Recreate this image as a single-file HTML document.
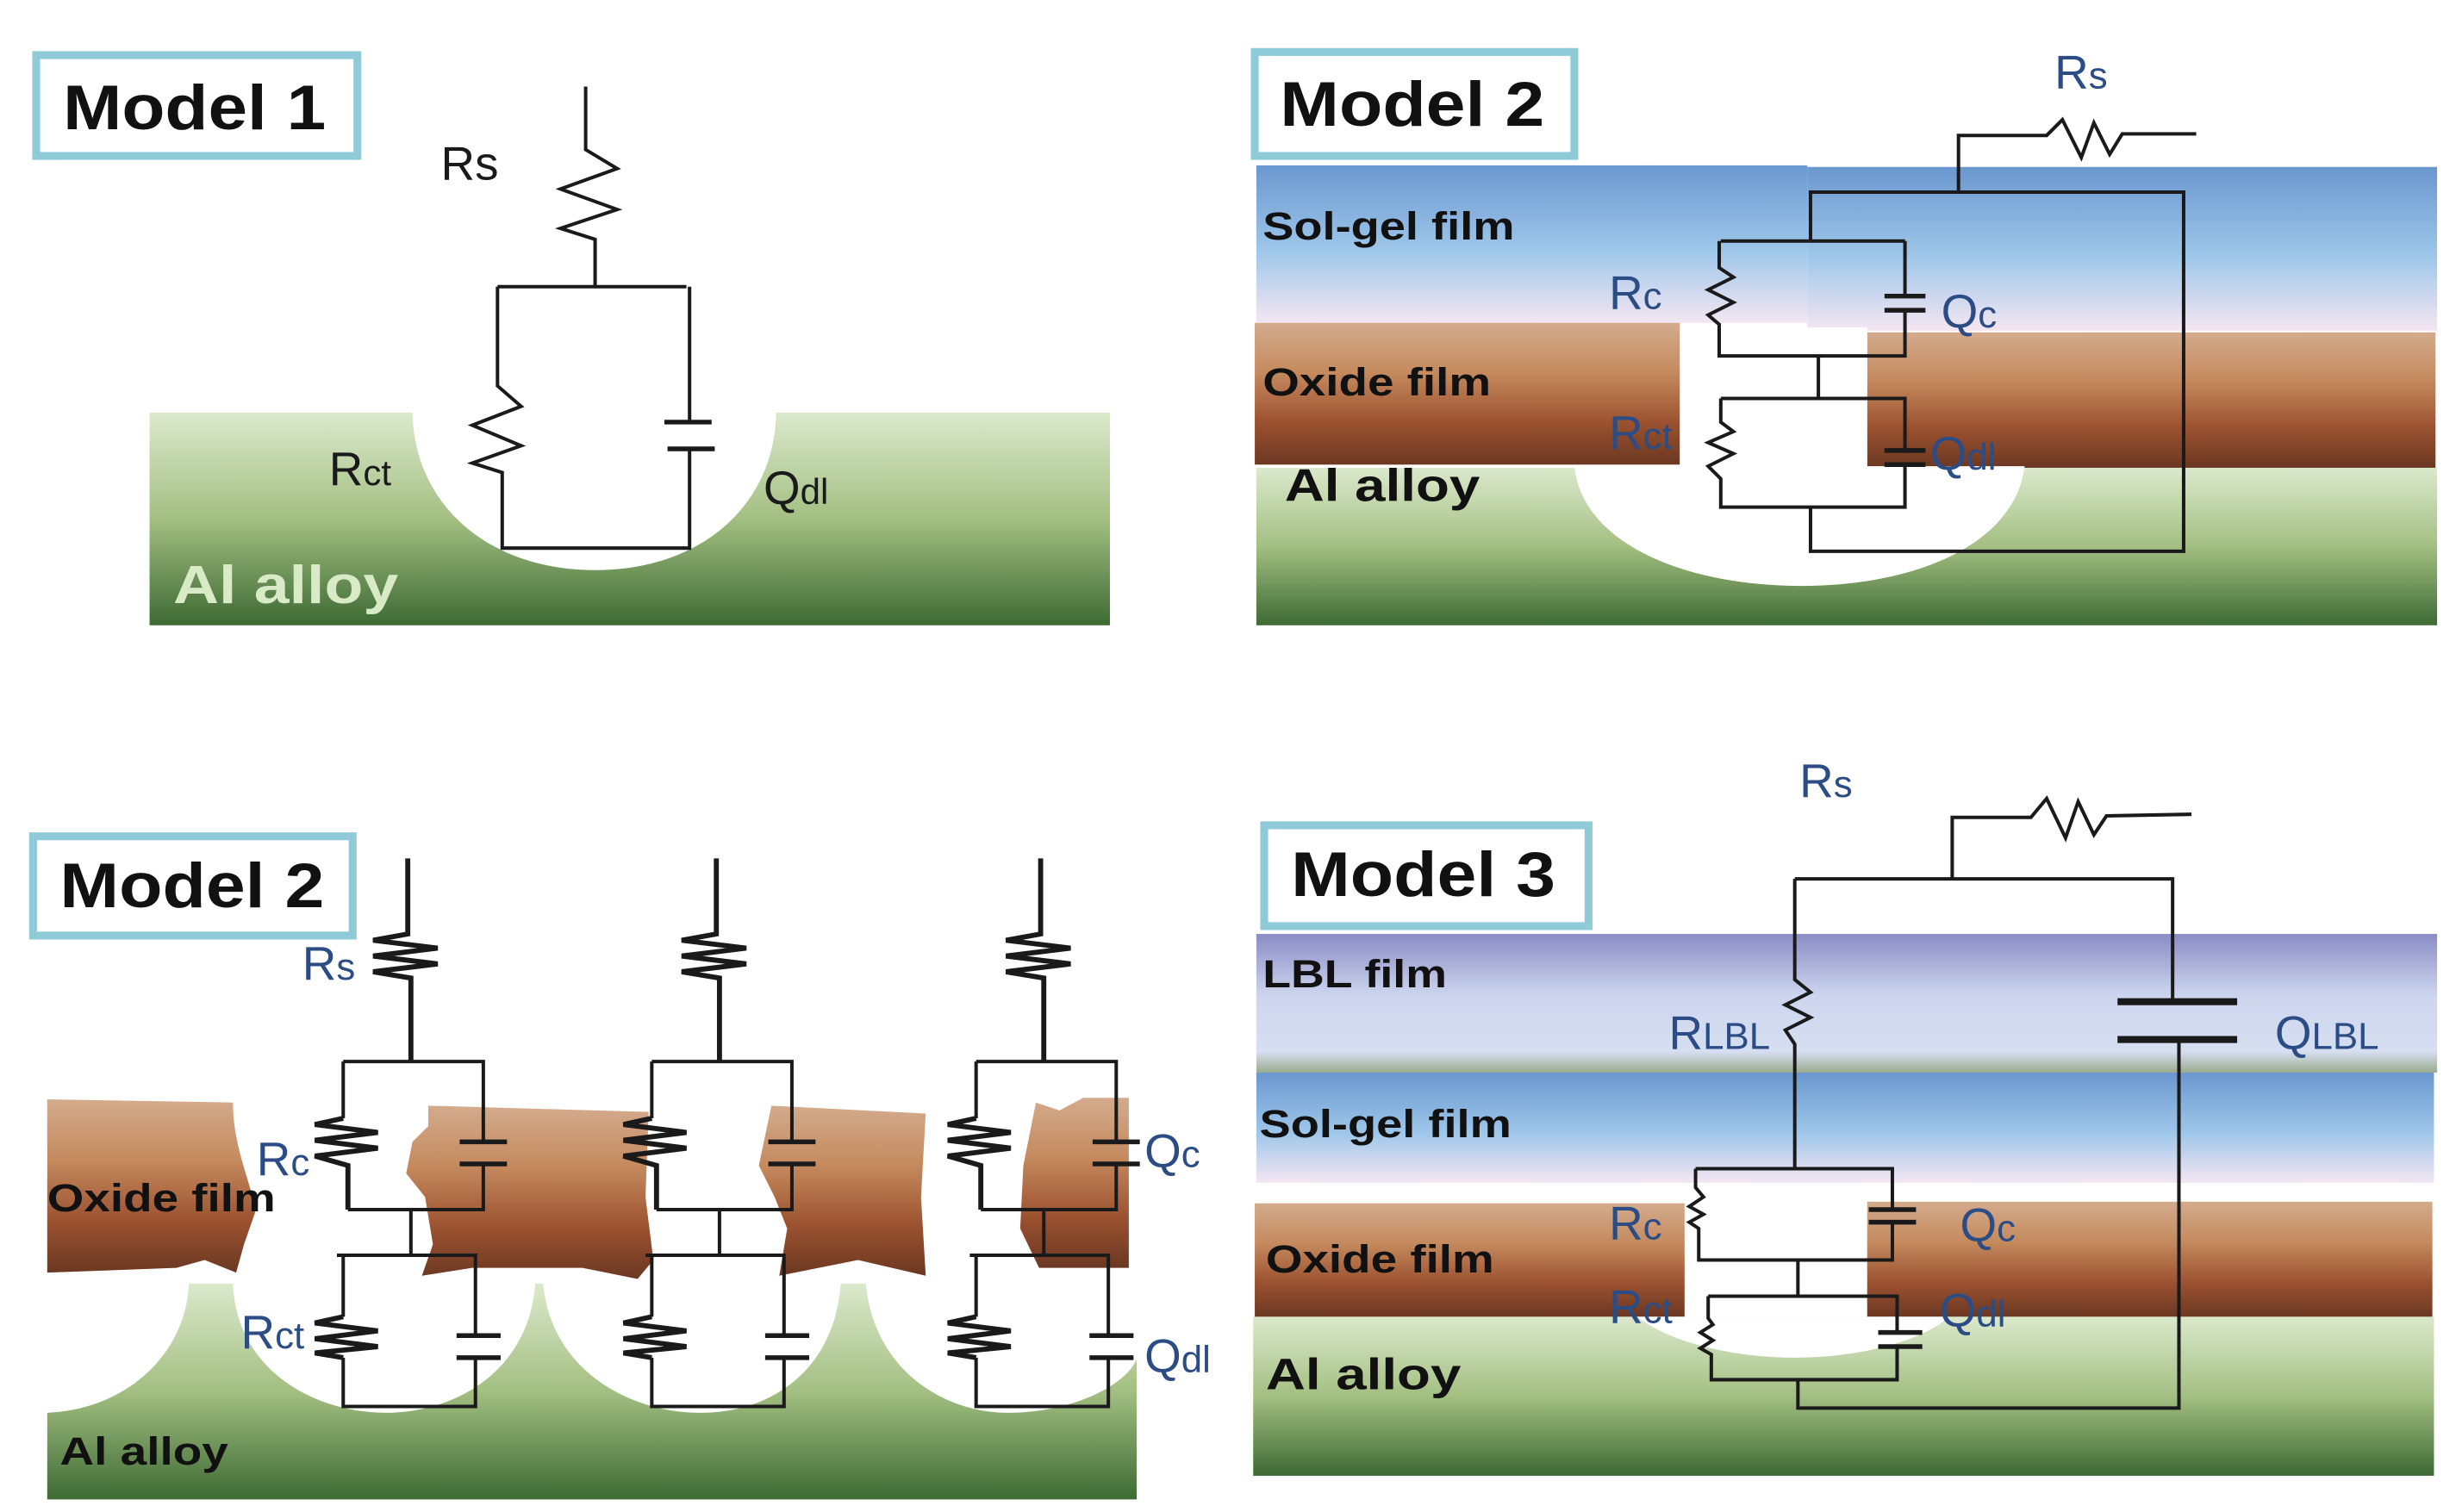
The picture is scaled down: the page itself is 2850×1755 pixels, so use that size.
<!DOCTYPE html>
<html><head><meta charset="utf-8"><style>
html,body{margin:0;padding:0;background:#fff;}
svg{display:block}
.w{fill:none;stroke:#1a1a1a;stroke-width:2.2;stroke-linejoin:miter}
.tw{fill:none;stroke:#1a1a1a;stroke-width:3.2}
.cap{stroke:#1a1a1a;stroke-width:3}
.box{fill:#fff;stroke:#8fcad8;stroke-width:5}
.mt{font-family:"Liberation Sans",sans-serif;font-weight:bold;font-size:40px;fill:#111}
.ll{font-family:"Liberation Sans Narrow","Liberation Sans",sans-serif;font-weight:bold;font-size:25px;fill:#111}
.bl{font-family:"Liberation Sans Narrow","Liberation Sans",sans-serif;font-size:30px;fill:#2b4c84}
.bk{font-family:"Liberation Sans Narrow","Liberation Sans",sans-serif;font-size:30px;fill:#1a1a1a}
</style></head><body>
<svg width="2850" height="1755" viewBox="0 0 1560 960" preserveAspectRatio="none" xmlns="http://www.w3.org/2000/svg">
<defs>
<linearGradient id="g" x1="0" y1="0" x2="0" y2="1"><stop offset="0" stop-color="#dbe9cc"/><stop offset="0.5" stop-color="#a3bf82"/><stop offset="1" stop-color="#3d6a33"/></linearGradient>
<linearGradient id="ox" x1="0" y1="0" x2="0" y2="1"><stop offset="0" stop-color="#d3ab8d"/><stop offset="0.35" stop-color="#c58a5e"/><stop offset="0.7" stop-color="#9c5230"/><stop offset="1" stop-color="#6b3822"/></linearGradient>
<linearGradient id="sg" x1="0" y1="0" x2="0" y2="1"><stop offset="0" stop-color="#6a97cf"/><stop offset="0.55" stop-color="#9fc7ea"/><stop offset="1" stop-color="#f4e6f2"/></linearGradient>
<linearGradient id="lbl" x1="0" y1="0" x2="0" y2="1"><stop offset="0" stop-color="#8a8cc5"/><stop offset="0.45" stop-color="#cdd6ee"/><stop offset="0.85" stop-color="#d6def1"/><stop offset="1" stop-color="#9aab8c"/></linearGradient>
</defs>

<!-- ===== Model 1 ===== -->
<rect x="95" y="262" width="610" height="135" fill="url(#g)"/>
<path d="M262,260 C262,320 310,362 378,362 C446,362 493,320 493,260 Z" fill="#fff"/>
<rect x="23" y="35" width="204" height="64" class="box"/>
<text x="40" y="82" class="mt" textLength="167" lengthAdjust="spacingAndGlyphs">Model 1</text>
<path class="w" d="M372,55 L372,95 L392,107 L356,120 L392,133 L356,145 L378,152 L378,182 M316,182 L436,182 M316,182 L316,245 L331,258 L300,270 L331,283 L300,294 L319,300 L319,348 L438,348 L438,285 M438,182 L438,268"/>
<line x1="422" y1="268" x2="452" y2="268" class="cap"/><line x1="424" y1="285" x2="454" y2="285" class="cap"/>
<text x="280" y="114" class="bk">Rs</text>
<text x="209" y="308" class="bk">R<tspan font-size="23">ct</tspan></text>
<text x="485" y="320" class="bk">Q<tspan font-size="23">dl</tspan></text>
<text x="110" y="383" class="ll" style="fill:#d8eac6;font-size:34px" textLength="143" lengthAdjust="spacingAndGlyphs">Al alloy</text>

<!-- ===== Model 2 (top right) ===== -->
<rect x="798" y="297" width="750" height="100" fill="url(#g)"/>
<rect x="798" y="105" width="350" height="100" fill="url(#sg)"/>
<rect x="1148" y="106" width="400" height="104" fill="url(#sg)"/>
<rect x="797" y="205" width="270" height="90" fill="url(#ox)"/>
<rect x="1186" y="211" width="361" height="86" fill="url(#ox)"/>
<path d="M1000,296 C1005,345 1070,372 1144,372 C1218,372 1280,345 1286,296 Z" fill="#fff"/>
<rect x="1067" y="208" width="119" height="89" fill="#fff"/>
<rect x="797" y="33" width="203" height="66" class="box"/>
<text x="813" y="80" class="mt" textLength="168" lengthAdjust="spacingAndGlyphs">Model 2</text>
<path class="w" d="M1244,122 L1244,86 L1300,86 L1310,76 L1322,100 L1330,78 L1340,98 L1348,85 L1395,85 M1150,152 L1150,122 L1387,122 L1387,350 L1150,350 L1150,322 M1093,153 L1210,153 M1092,153 L1092,170 L1101,176 L1085,184 L1101,192 L1085,200 L1092,206 L1092,226 L1210,226 L1210,197 M1210,153 L1210,188 M1155,226 L1155,253 M1093,253 L1210,253 L1210,286 M1093,253 L1093,268 L1101,274 L1085,281 L1101,288 L1085,296 L1093,304 L1093,322 L1210,322 L1210,295"/>
<line x1="1197" y1="188" x2="1223" y2="188" class="cap"/><line x1="1197" y1="197" x2="1223" y2="197" class="cap"/>
<line x1="1197" y1="286" x2="1223" y2="286" class="cap"/><line x1="1197" y1="295" x2="1223" y2="295" class="cap"/>
<text x="1305" y="56" class="bl">R<tspan font-size="24">s</tspan></text>
<text x="1022" y="196" class="bl">R<tspan font-size="24">c</tspan></text>
<text x="1233" y="208" class="bl">Q<tspan font-size="24">c</tspan></text>
<text x="1022" y="285" class="bl">R<tspan font-size="24">ct</tspan></text>
<text x="1226" y="298" class="bl">Q<tspan font-size="24">dl</tspan></text>
<text x="802" y="152" class="ll" textLength="160" lengthAdjust="spacingAndGlyphs">Sol-gel film</text>
<text x="802" y="251" class="ll" textLength="145" lengthAdjust="spacingAndGlyphs">Oxide film</text>
<text x="816" y="318" class="ll" style="font-size:29px" textLength="124" lengthAdjust="spacingAndGlyphs">Al alloy</text>

<!-- ===== Model 2 (bottom left) ===== -->
<path d="M30,952 L30,897 C80,895 118,860 120,815 L148,815 C150,870 200,897 245,897 C290,897 336,870 340,815 L345,815 C350,870 400,897 445,897 C490,897 530,870 534,815 L550,815 C555,870 600,897 640,897 C680,897 715,880 722,863 L722,952 Z" fill="url(#g)"/>
<path d="M30,698 L148,700 C148,730 160,750 162,770 L155,790 L150,808 L130,800 L112,805 L30,808 Z" fill="url(#ox)"/>
<path d="M272,702 L412,706 L410,760 L415,800 L405,812 L370,805 L300,805 L268,810 L275,790 L270,760 L258,745 L262,725 L272,715 Z" fill="url(#ox)"/>
<path d="M490,702 L588,707 L585,760 L588,810 L545,800 L495,810 L500,780 L492,760 L482,740 Z" fill="url(#ox)"/>
<path d="M658,700 L673,705 L688,697 L717,697 L717,805 L660,805 L648,780 L650,740 Z" fill="url(#ox)"/>
<rect x="21" y="531" width="203" height="63" class="box"/>
<text x="38" y="576" class="mt" textLength="168" lengthAdjust="spacingAndGlyphs">Model 2</text>
<g id="col">
<path class="tw" d="M259,545 L259,593 L237,597 L278,602 L237,607 L278,612 L237,617 L261,621 L261,674"/>
<path class="w" d="M218,674 L307,674 L307,725 M307,739 L307,768 L221,768 M218,674 L218,710"/>
<path class="tw" d="M218,710 L200,714 L240,719 L200,724 L240,729 L200,734 L221,740 L221,768"/>
<path class="w" d="M261,768 L261,797 M214,797 L302,797 L302,848 M302,862 L302,893 L218,893 L218,862 M214,797 L218,797 L218,836"/>
<path class="tw" d="M218,836 L200,840 L240,845 L200,850 L240,855 L200,859 L218,862"/>
<line x1="292" y1="725" x2="322" y2="725" class="cap"/><line x1="292" y1="739" x2="322" y2="739" class="cap"/>
<line x1="290" y1="848" x2="318" y2="848" class="cap"/><line x1="290" y1="862" x2="318" y2="862" class="cap"/>
</g>
<use href="#col" transform="translate(196,0)"/>
<use href="#col" transform="translate(402,0)"/>
<text x="192" y="622" class="bl">R<tspan font-size="24">s</tspan></text>
<text x="163" y="746" class="bl">R<tspan font-size="24">c</tspan></text>
<text x="153" y="856" class="bl">R<tspan font-size="24">ct</tspan></text>
<text x="727" y="741" class="bl">Q<tspan font-size="24">c</tspan></text>
<text x="727" y="871" class="bl">Q<tspan font-size="24">dl</tspan></text>
<text x="30" y="769" class="ll" textLength="145" lengthAdjust="spacingAndGlyphs">Oxide film</text>
<text x="38" y="930" class="ll" textLength="107" lengthAdjust="spacingAndGlyphs">Al alloy</text>

<!-- ===== Model 3 ===== -->
<rect x="798" y="593" width="750" height="88" fill="url(#lbl)"/>
<rect x="798" y="681" width="748" height="70" fill="url(#sg)"/>
<rect x="796" y="836" width="750" height="101" fill="url(#g)"/>
<rect x="797" y="764" width="273" height="72" fill="url(#ox)"/>
<rect x="1186" y="763" width="359" height="73" fill="url(#ox)"/>
<path d="M1040,836 C1060,852 1100,862 1140,862 C1180,862 1220,852 1238,836 Z" fill="#fff"/>
<rect x="803" y="524" width="206" height="64" class="box"/>
<text x="820" y="569" class="mt" textLength="168" lengthAdjust="spacingAndGlyphs">Model 3</text>
<path class="w" d="M1240,558 L1240,519 L1290,519 L1300,507 L1312,532 L1320,509 L1330,530 L1338,518 L1392,517 M1140,558 L1380,558 L1380,635 M1384,660 L1384,894 L1142,894 L1142,876 M1140,558 L1140,622 L1150,630 L1134,638 L1150,646 L1134,654 L1140,663 L1140,742 M1077,742 L1202,742 L1202,768 M1202,776 L1202,800 L1079,800 L1079,780 L1073,776 L1082,771 L1073,766 L1082,760 L1077,754 L1077,742 M1142,800 L1142,823 M1085,823 L1205,823 L1205,846 M1205,855 L1205,876 L1087,876 L1087,860 L1080,856 L1088,851 L1080,846 L1088,841 L1085,837 L1085,823"/>
<line x1="1345" y1="636" x2="1421" y2="636" style="stroke:#1a1a1a;stroke-width:4.5"/>
<line x1="1345" y1="660" x2="1421" y2="660" style="stroke:#1a1a1a;stroke-width:4.5"/>
<line x1="1187" y1="768" x2="1217" y2="768" class="cap"/><line x1="1187" y1="776" x2="1217" y2="776" class="cap"/>
<line x1="1193" y1="846" x2="1221" y2="846" class="cap"/><line x1="1193" y1="855" x2="1221" y2="855" class="cap"/>
<text x="1143" y="506" class="bl">R<tspan font-size="24">s</tspan></text>
<text x="1060" y="666" class="bl">R<tspan font-size="24">LBL</tspan></text>
<text x="1445" y="666" class="bl">Q<tspan font-size="24">LBL</tspan></text>
<text x="1022" y="787" class="bl">R<tspan font-size="24">c</tspan></text>
<text x="1245" y="788" class="bl">Q<tspan font-size="24">c</tspan></text>
<text x="1022" y="840" class="bl">R<tspan font-size="24">ct</tspan></text>
<text x="1232" y="842" class="bl">Q<tspan font-size="24">dl</tspan></text>
<text x="802" y="627" class="ll" textLength="117" lengthAdjust="spacingAndGlyphs">LBL film</text>
<text x="800" y="722" class="ll" textLength="160" lengthAdjust="spacingAndGlyphs">Sol-gel film</text>
<text x="804" y="808" class="ll" textLength="145" lengthAdjust="spacingAndGlyphs">Oxide film</text>
<text x="804" y="882" class="ll" style="font-size:28px" textLength="124" lengthAdjust="spacingAndGlyphs">Al alloy</text>
</svg>
</body></html>
